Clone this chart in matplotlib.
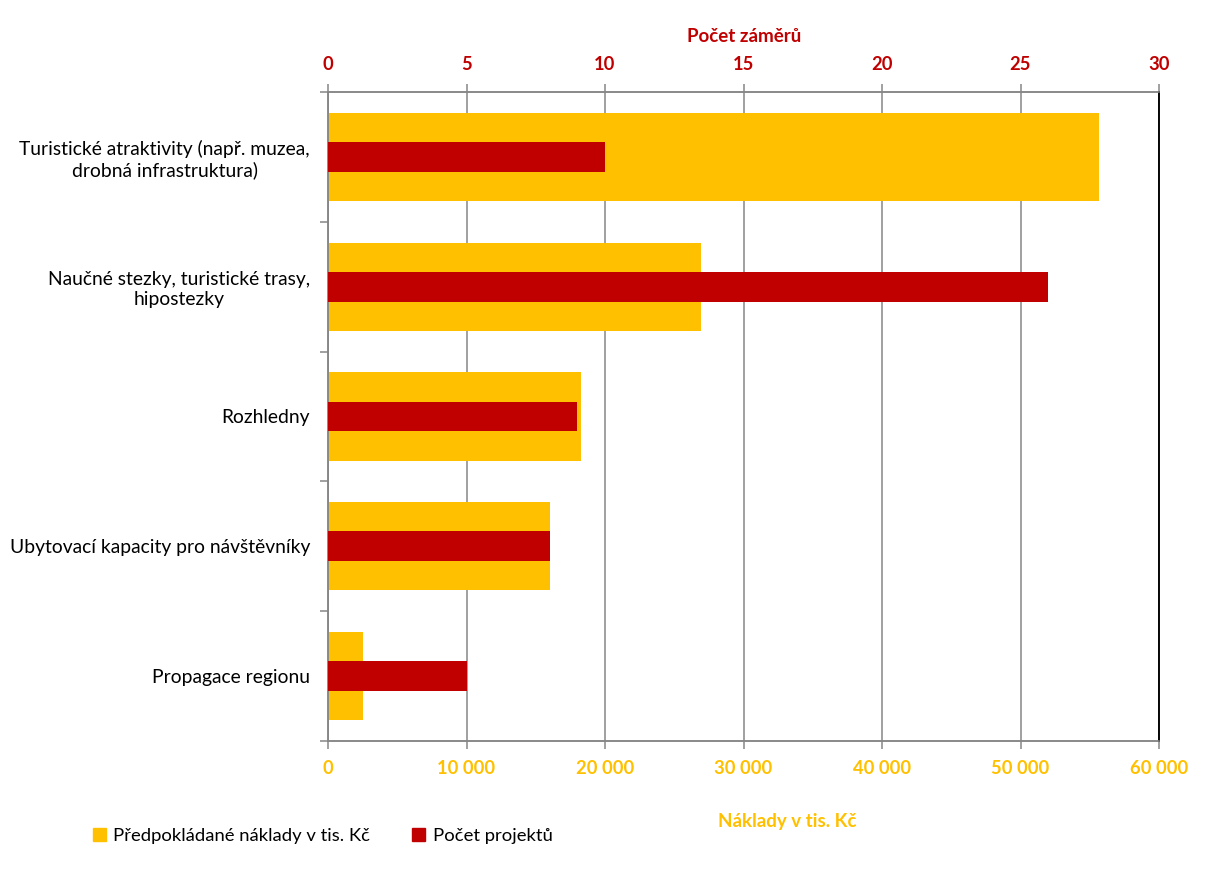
import numpy as np
import matplotlib.pyplot as plt
from matplotlib.patches import Patch

plt.rcParams['font.family'] = ['Lato', 'DejaVu Sans']

kategorie = ["Turistické atraktivity (např. muzea,\ndrobná infrastruktura)",
             "Naučné stezky, turistické trasy,\nhipostezky",
             "Rozhledny",
             "Ubytovací kapacity pro návštěvníky",
             "Propagace regionu"]
naklady = [55700, 26900, 18300, 16000, 2500]
pocet = [10, 26, 9, 8, 5]

zluta = '#FFC000'
cervena = '#C00000'
seda = '#868686'

fig = plt.figure(figsize=(12.08, 8.91), dpi=100)
ax = fig.add_axes([328/1208, 1 - 741/891, (1159-328)/1208, (741-92)/891])
y = np.arange(len(kategorie))

ax.barh(y, naklady, height=0.68, color=zluta, zorder=2)
ax.set_xlim(0, 60000)
ax.set_ylim(len(kategorie) - 0.5, -0.5)
ax.set_xticks(np.arange(0, 60001, 10000))
ax.set_xticklabels([f"{v:,}".replace(",", " ") for v in range(0, 60001, 10000)],
                   color=zluta, fontweight='bold', fontsize=13.2)
ax.grid(axis='x', color=seda, lw=1.1, zorder=0)
ax.set_yticks(y)
ax.set_yticklabels(kategorie, fontsize=13.9, multialignment='center')
ax.set_yticks(np.arange(-0.5, len(kategorie)), minor=True)
ax.tick_params(axis='y', which='major', length=0, pad=13)
ax.tick_params(axis='y', which='minor', length=6, color=seda, width=1.1)
ax.tick_params(axis='x', length=6, color=seda, width=1.1, pad=8)
for s in ['left', 'bottom', 'top']:
    ax.spines[s].set_color(seda)
    ax.spines[s].set_linewidth(1.1)
ax.spines['right'].set_color('black')
ax.spines['right'].set_linewidth(1.1)

ax2 = ax.twiny()
ax2.barh(y, pocet, height=0.23, color=cervena, zorder=3)
ax2.set_xlim(0, 30)
ax2.set_xticks(np.arange(0, 31, 5))
ax2.set_xticklabels([str(v) for v in range(0, 31, 5)], color=cervena,
                    fontweight='bold', fontsize=13.2)
ax2.tick_params(axis='x', length=6, color=seda, width=1.1, pad=8)
for s in ['left', 'bottom', 'top']:
    ax2.spines[s].set_color(seda)
    ax2.spines[s].set_linewidth(1.1)
ax2.spines['right'].set_color('black')
ax2.spines['right'].set_linewidth(1.1)

fig.text(744/1208, 1 - 37/891, "Počet záměrů", color=cervena, fontweight='bold',
         fontsize=13.5, ha='center', va='center')
fig.text(787/1208, 1 - 821/891, "Náklady v tis. Kč", color=zluta, fontweight='bold',
         fontsize=13.5, ha='center', va='center')

fig.legend(handles=[Patch(color=zluta, label="Předpokládané náklady v tis. Kč"),
                    Patch(color=cervena, label="Počet projektů")],
           loc='center left', bbox_to_anchor=(76/1208, 1 - 836/891), ncol=2,
           frameon=False, fontsize=13.3, handlelength=0.7, handleheight=0.7,
           handletextpad=0.4, columnspacing=2.3)

fig.savefig('out.png', dpi=100)
